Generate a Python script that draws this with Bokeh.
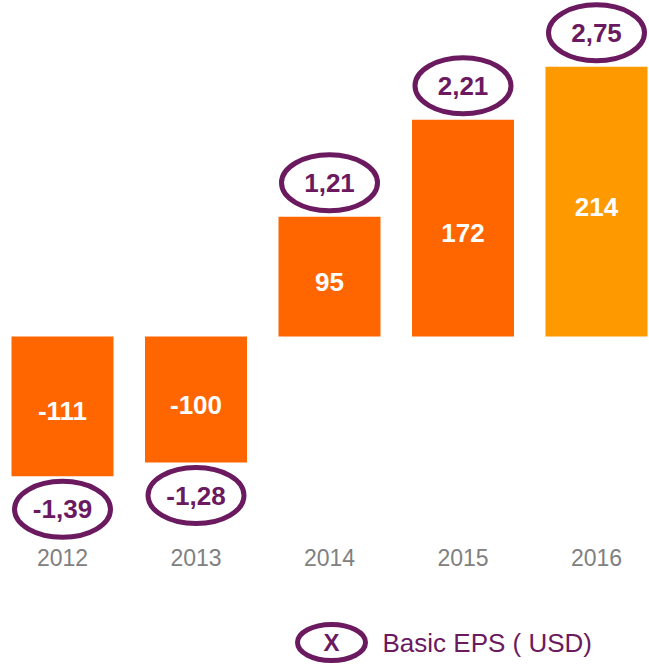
from bokeh.plotting import figure
from bokeh.models import ColumnDataSource, Range1d
from bokeh.core.properties import value
from bokeh.embed import file_html
from bokeh.resources import INLINE

years = ["2012", "2013", "2014", "2015", "2016"]
net_income = [-111, -100, 95, 172, 214]
basic_eps = [-1.39, -1.28, 1.21, 2.21, 2.75]
legend_label = "Basic EPS ( USD)"

W, H = 649, 664
XS = 133.5        # px per category
X0 = 62           # px of first category centre
YS = 1.26         # px per unit
Y0 = 336          # px of zero baseline from top

FONT = value("Liberation Sans")
PURPLE = "#6B1A5F"
colors = ["#FF6600", "#FF6600", "#FF6600", "#FF6600", "#FF9900"]

xs = list(range(len(years)))
p = figure(width=W, height=H, output_backend="svg", toolbar_location=None,
           x_range=Range1d(-X0 / XS, (W - X0) / XS),
           y_range=Range1d(-(H - Y0) / YS, Y0 / YS),
           min_border=0, outline_line_color=None)
p.axis.visible = False
p.grid.visible = False
p.background_fill_color = "white"
p.border_fill_color = "white"

src = ColumnDataSource(dict(
    x=xs, top=net_income, color=colors,
    lab=[str(v) for v in net_income],
    laby=[v / 2 - 5 / YS for v in net_income],
    ell_y=[v + (34 / YS if v > 0 else -33 / YS) for v in net_income],
    eps=[f"{e:.2f}".replace(".", ",") for e in basic_eps],
    year=years,
    year_y=[-(557 - Y0) / YS] * len(years),
))

p.vbar(x="x", top="top", bottom=0, width=102 / XS, fill_color="color",
       line_color=None, source=src)
p.text(x="x", y="laby", text="lab", text_align="center", text_baseline="middle",
       text_font=FONT, text_font_style="bold", text_font_size="26px",
       text_color="white", source=src)
p.ellipse(x="x", y="ell_y", width=96, height=56, width_units="screen",
          height_units="screen", fill_color=None, line_color=PURPLE,
          line_width=5, source=src)
p.text(x="x", y="ell_y", text="eps", text_align="center", text_baseline="middle",
       text_font=FONT, text_font_style="bold", text_font_size="26px",
       text_color=PURPLE, source=src)
p.text(x="x", y="year_y", text="year", text_align="center", text_baseline="middle",
       text_font=FONT, text_font_size="23px", text_color="#808080", source=src)

# legend
lx = (331 - X0) / XS
ly = (Y0 - 642) / YS
p.ellipse(x=[lx], y=[ly], width=68, height=36, width_units="screen",
          height_units="screen", fill_color=None, line_color=PURPLE, line_width=5)
p.text(x=[lx], y=[ly], text=["X"], text_align="center", text_baseline="middle",
       text_font=FONT, text_font_style="bold", text_font_size="24px",
       text_color=PURPLE)
p.text(x=[(382 - X0) / XS], y=[ly], text=[legend_label], text_align="left",
       text_baseline="middle", text_font=FONT, text_font_size="26px",
       text_color=PURPLE)

open("out.html", "w").write(file_html(p, INLINE))
